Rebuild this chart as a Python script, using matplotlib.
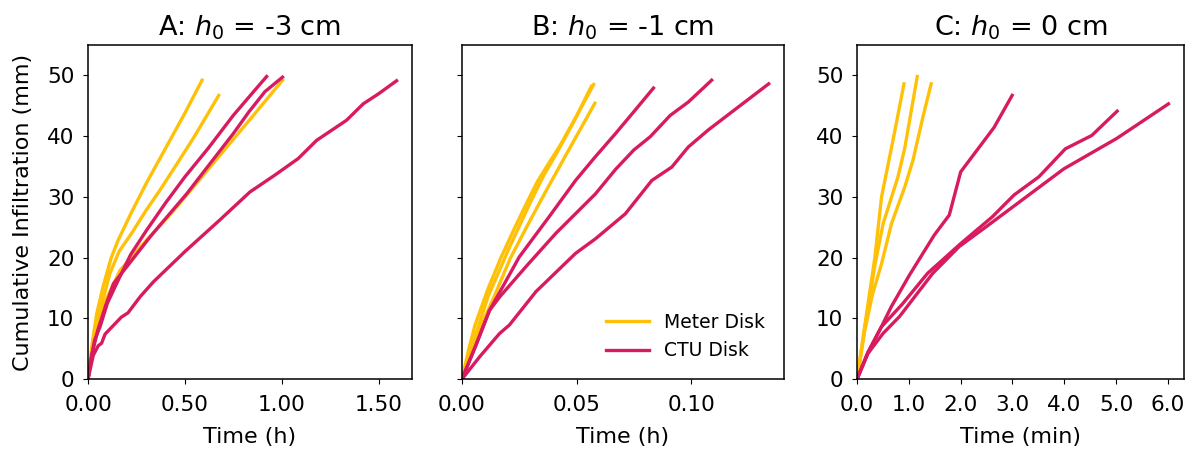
import matplotlib
matplotlib.use("Agg")
import matplotlib.pyplot as plt

METER = "#FFC107"
CTU = "#D81B60"

# ---- A: h0 = -3 cm (time in hours) ----
meter_a_t = [
    [0, 0.02, 0.045, 0.08, 0.12, 0.156, 0.225, 0.30, 0.40, 0.50, 0.588],
    [0, 0.03, 0.06, 0.113, 0.16, 0.225, 0.30, 0.371, 0.45, 0.55, 0.674],
    [0, 0.03, 0.07, 0.165, 0.302, 0.43, 0.543, 0.70, 0.85, 1.003],
]
meter_a_i = [
    [0, 5.5, 10.8, 15.5, 20.0, 22.9, 27.5, 32.2, 38.0, 43.8, 49.2],
    [0, 6.5, 11.0, 17.4, 21.0, 24.0, 27.8, 31.1, 35.0, 40.0, 46.7],
    [0, 7.0, 11.5, 17.9, 22.9, 27.3, 31.6, 37.6, 43.3, 49.2],
]
ctu_a_t = [
    [0, 0.015, 0.034, 0.062, 0.10, 0.156, 0.22, 0.302, 0.40, 0.50, 0.62, 0.749, 0.84, 0.921],
    [0, 0.02, 0.05, 0.09, 0.131, 0.20, 0.32, 0.41, 0.509, 0.63, 0.749, 0.83, 0.912, 1.003],
    [0, 0.027, 0.053, 0.07, 0.088, 0.13, 0.172, 0.206, 0.27, 0.337, 0.50, 0.68, 0.835,
     0.96, 1.084, 1.179, 1.333, 1.419, 1.50, 1.591],
]
ctu_a_i = [
    [0, 3.2, 6.4, 8.6, 12.5, 16.3, 20.5, 24.5, 29.0, 33.3, 38.0, 43.4, 46.8, 49.8],
    [0, 4.0, 8.0, 12.0, 15.7, 18.5, 23.4, 26.8, 30.5, 35.5, 40.4, 44.0, 47.3, 49.7],
    [0, 3.9, 5.5, 5.9, 7.4, 8.8, 10.2, 10.9, 13.6, 16.0, 21.0, 26.2, 30.8,
     33.5, 36.3, 39.3, 42.6, 45.3, 47.0, 49.1],
]

# ---- B: h0 = -1 cm (time in hours) ----
meter_b_t = [
    [0, 0.003, 0.0057, 0.0114, 0.017, 0.0229, 0.028, 0.0329, 0.038, 0.0429, 0.050, 0.0575],
    [0, 0.004, 0.0114, 0.0205, 0.0300, 0.0358, 0.0415, 0.049, 0.0565],
    [0, 0.004, 0.008, 0.0143, 0.021, 0.0286, 0.036, 0.0429, 0.050, 0.058],
]
meter_b_i = [
    [0, 5.0, 8.9, 14.9, 20.0, 24.8, 28.8, 32.5, 35.6, 38.5, 43.3, 48.5],
    [0, 5.0, 13.6, 21.5, 29.2, 33.6, 37.3, 42.5, 48.2],
    [0, 4.5, 8.5, 13.8, 19.8, 25.3, 30.5, 35.2, 40.0, 45.4],
]
ctu_b_t = [
    [0, 0.006, 0.012, 0.0178, 0.025, 0.038, 0.0496, 0.058, 0.067, 0.075, 0.0836],
    [0, 0.006, 0.012, 0.0164, 0.0279, 0.041, 0.0583, 0.067, 0.075, 0.0822, 0.0909, 0.0988, 0.109],
    [0, 0.008, 0.0164, 0.0207, 0.0323, 0.0496, 0.0583, 0.0713, 0.0829, 0.0916, 0.0988,
     0.1075, 0.12, 0.1339],
]
ctu_b_i = [
    [0, 5.5, 11.3, 15.2, 20.1, 26.7, 32.7, 36.5, 40.4, 44.0, 47.9],
    [0, 5.5, 11.3, 13.5, 18.5, 24.0, 30.5, 34.5, 37.7, 39.9, 43.4, 45.6, 49.2],
    [0, 3.8, 7.5, 8.9, 14.4, 20.7, 23.1, 27.2, 32.7, 34.9, 38.2, 41.0, 44.6, 48.6],
]

# ---- C: h0 = 0 cm (time in minutes) ----
meter_c_t = [
    [0, 0.15, 0.345, 0.473, 0.70, 0.906],
    [0, 0.15, 0.35, 0.504, 0.79, 0.92, 1.162],
    [0, 0.15, 0.30, 0.473, 0.665, 0.92, 1.079, 1.27, 1.43],
]
meter_c_i = [
    [0, 8.8, 20.1, 30.0, 39.6, 48.6],
    [0, 8.5, 19.0, 25.6, 33.3, 38.0, 49.8],
    [0, 8.0, 14.0, 19.0, 25.6, 31.6, 36.0, 43.1, 48.6],
]
ctu_c_t = [
    [0, 0.21, 0.47, 0.66, 1.01, 1.49, 1.78, 2.0, 2.643, 2.994],
    [0, 0.21, 0.47, 0.88, 1.36, 2.0, 2.61, 3.03, 3.51, 4.02, 4.53, 5.02],
    [0, 0.21, 0.5, 0.82, 1.46, 1.97, 2.48, 3.0, 3.99, 5.01, 6.01],
]
ctu_c_i = [
    [0, 4.4, 8.6, 11.9, 17.1, 23.7, 27.0, 34.1, 41.4, 46.7],
    [0, 4.4, 8.6, 12.4, 17.4, 22.3, 26.7, 30.3, 33.3, 37.9, 40.1, 44.1],
    [0, 4.2, 7.5, 10.3, 17.4, 21.8, 25.0, 28.3, 34.6, 39.6, 45.3],
]

titles = ["A: $h_0$ = -3 cm", "B: $h_0$ = -1 cm", "C: $h_0$ = 0 cm"]
xlabels = ["Time (h)", "Time (h)", "Time (min)"]
xticks = [[0, 0.5, 1.0, 1.5], [0, 0.05, 0.10], [0, 1, 2, 3, 4, 5, 6]]
xfmt = ["{:.2f}", "{:.2f}", "{:.1f}"]
panels = [
    (meter_a_t, meter_a_i, ctu_a_t, ctu_a_i),
    (meter_b_t, meter_b_i, ctu_b_t, ctu_b_i),
    (meter_c_t, meter_c_i, ctu_c_t, ctu_c_i),
]

plt.rcParams["font.size"] = 16
plt.rcParams["xtick.labelsize"] = 15.5
plt.rcParams["ytick.labelsize"] = 15.5
plt.rcParams["xtick.major.size"] = 3.8
plt.rcParams["ytick.major.size"] = 3.8
plt.rcParams["xtick.major.pad"] = 8
plt.rcParams["ytick.major.pad"] = 6
plt.rcParams["axes.linewidth"] = 1.1

fig = plt.figure(figsize=(11.99, 4.54), dpi=100)
boxes = [(0.0734, 0.165, 0.2702, 0.736),
         (0.3853, 0.165, 0.2686, 0.736),
         (0.7148, 0.165, 0.2727, 0.736)]

for k, (box, (mt, mi, ct, ci)) in enumerate(zip(boxes, panels)):
    ax = fig.add_axes(box)
    for t, v in zip(mt, mi):
        ax.plot(t, v, color=METER, lw=2.4, label="Meter Disk")
    for t, v in zip(ct, ci):
        ax.plot(t, v, color=CTU, lw=2.4, label="CTU Disk")
    ax.set_ylim(0, 55)
    ax.set_yticks([0, 10, 20, 30, 40, 50])
    ax.set_xlim(left=0)
    ax.set_xticks(xticks[k])
    ax.set_xticklabels([xfmt[k].format(x) for x in xticks[k]])
    ax.set_xlabel(xlabels[k], labelpad=8)
    ax.set_title(titles[k], fontsize=19.5, pad=7)
    if k == 0:
        ax.set_ylabel("Cumulative Infiltration (mm)", labelpad=10)
    if k == 1:
        ax.tick_params(labelleft=False)
        h, l = ax.get_legend_handles_labels()
        ax.legend([h[0], h[3]], [l[0], l[3]], loc="lower right", frameon=False,
                  fontsize=13.5, handlelength=2.3, borderaxespad=0.6)

fig.savefig("out.png", dpi=100)
